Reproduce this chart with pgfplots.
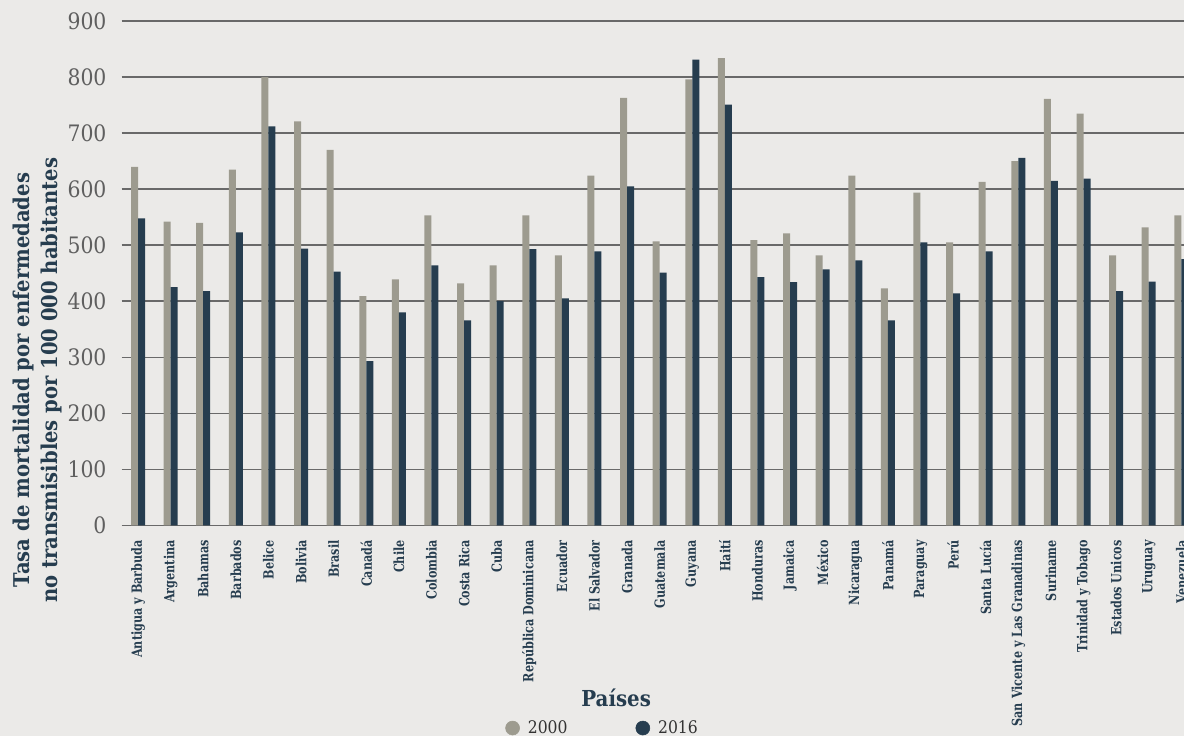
\documentclass[border=0pt]{standalone}
\usepackage{fontspec}
\setmainfont{DejaVu Serif}[FakeStretch=0.9]
\newfontfamily\condfont{DejaVu Serif}[FakeStretch=0.8]
\usepackage{pgfplots}
\usepackage{pgfplotstable}
\pgfplotsset{compat=1.18}

\definecolor{bgc}{RGB}{235,234,232}
\definecolor{c2000}{RGB}{157,155,143}
\definecolor{c2016}{RGB}{38,61,79}
\definecolor{gridc}{RGB}{105,105,105}
\definecolor{tickc}{RGB}{95,95,95}
\definecolor{legc}{RGB}{51,51,51}

% tasa por 100 000 habitantes, 2000 y 2016
\pgfplotstableread{
x v2000 v2016
0 640 548
1 542 425
2 540 418
3 635 523
4 800 712
5 721 494
6 670 453
7 409 293
8 439 380
9 553 464
10 432 366
11 464 400
12 553 493
13 482 405
14 624 489
15 763 605
16 507 451
17 796 831
18 834 751
19 509 443
20 521 434
21 482 457
22 624 473
23 423 366
24 594 505
25 505 414
26 613 489
27 650 656
28 761 615
29 735 619
30 482 418
31 532 435
32 553 475
}\datatable

\begin{document}
\begin{tikzpicture}
\fill[bgc] (0,0) rectangle (888pt,552pt);
\begin{axis}[
    at={(91.3pt,158pt)}, anchor=south west,
    scale only axis, width=806.9pt, height=378.2pt,
    xmin=-0.5, xmax=32.5, ymin=0, ymax=900,
    axis line style={draw=none},
    major tick length=0pt,
    ymajorgrids, grid style={draw=gridc, line width=1.1pt},
    ytick={0,100,...,900},
    xtick={0,...,32},
    xticklabels={Antigua y Barbuda, Argentina, Bahamas, Barbados, Belice, Bolivia, Brasil, Canadá, Chile, Colombia, Costa Rica, Cuba, República Dominicana, Ecuador, El Salvador, Granada, Guatemala, Guyana, Haití, Honduras, Jamaica, México, Nicaragua, Panamá, Paraguay, Perú, Santa Lucía, San Vicente y Las Granadinas, Suriname, Trinidad y Tobago, Estados Unicos, Uruguay, Venezuela},
    /pgf/number format/assume math mode=true,
    yticklabel style={font=\fontsize{17}{17}\selectfont, text=tickc, anchor=east, inner sep=0pt, xshift=-11.25pt},
    xticklabel style={font=\condfont\fontsize{10.5}{10.5}\selectfont\bfseries, text=c2016, yshift=-11pt, rotate=90, anchor=east, inner sep=0pt},
    xlabel={Países},
    xlabel style={font=\fontsize{16.5}{16.5}\selectfont\bfseries, text=c2016, at={(axis description cs:0.4595,-0.3425)}, anchor=center},
    ylabel={Tasa de mortalidad por enfermedades\\no transmisibles por 100 000 habitantes},
    ylabel style={font=\fontsize{16.3}{21}\selectfont\bfseries, text=c2016, align=center, at={(axis description cs:-0.0783,0.288)}, anchor=center},
    legend columns=2,
    legend style={at={(axis description cs:0.3563,-0.402)}, anchor=west, draw=none, fill=none,
        inner sep=0pt, nodes={inner sep=0pt}, font=\fontsize{13}{13}\selectfont, text=legc,
        /tikz/every odd column/.append style={column sep=6pt},
        /tikz/every even column/.append style={column sep=51pt}},
]
\addplot[ybar, bar width=5.25pt, bar shift=-2.625pt, fill=c2000, draw=none, forget plot]
    table[x=x, y=v2000]{\datatable};
\addplot[ybar, bar width=5.25pt, bar shift=2.625pt, fill=c2016, draw=none, forget plot]
    table[x=x, y=v2016]{\datatable};
\addlegendimage{legend image code/.code={\fill[c2000] (0pt,0pt) circle (5.25pt);}}
\addlegendentry{2000}
\addlegendimage{legend image code/.code={\fill[c2016] (0pt,0pt) circle (5.25pt);}}
\addlegendentry{2016}
\end{axis}
\pgfresetboundingbox
\useasboundingbox (0,0) rectangle (888pt,552pt);
\end{tikzpicture}
\end{document}
